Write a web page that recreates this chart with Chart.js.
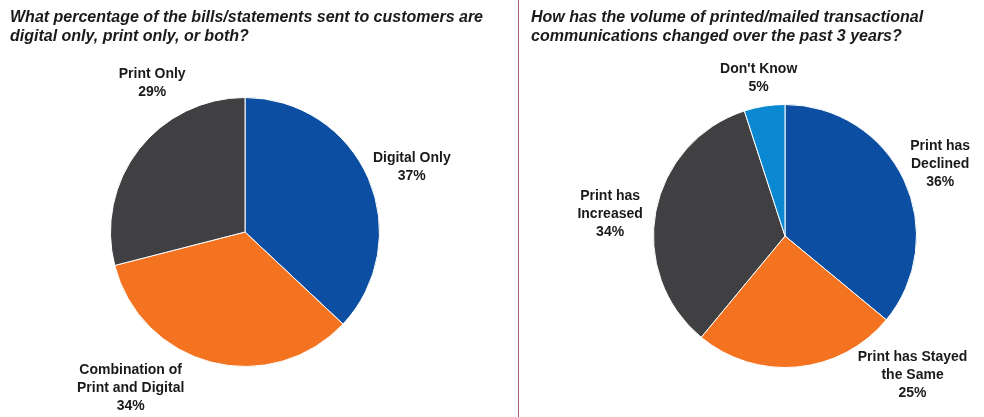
<!DOCTYPE html>
<html>
<head>
<meta charset="utf-8">
<script src="https://cdn.jsdelivr.net/npm/chart.js@4/dist/chart.umd.min.js"></script>
<style>
  html, body { margin: 0; padding: 0; background: #fff; }
  #wrap { position: relative; width: 984px; height: 417px; overflow: hidden; }
  #left { position: absolute; left: 0; top: 0; width: 518px; height: 417px; }
  #right { position: absolute; left: 520px; top: 0; width: 464px; height: 417px; }
  #divider { position: absolute; left: 518px; top: 0; width: 1px; height: 417px; background: #a05a7c; }
</style>
</head>
<body>
<div id="wrap">
  <div id="left"><canvas id="bills-chart"></canvas></div>
  <div id="divider"></div>
  <div id="right"><canvas id="volume-chart"></canvas></div>
</div>
<script>
const billsTitle = ['What percentage of the bills/statements sent to customers are', 'digital only, print only, or both?'];
const billsCategories = [['Digital Only'], ['Combination of', 'Print and Digital'], ['Print Only']];
const billsValues = [37, 34, 29];

const volumeTitle = ['How has the volume of printed/mailed transactional', 'communications changed over the past 3 years?'];
const volumeCategories = [['Print has', 'Declined'], ['Print has Stayed', 'the Same'], ['Print has', 'Increased'], ["Don't Know"]];
const volumeValues = [36, 25, 34, 5];

const blue = '#0b4ea2';
const orange = '#f37321';
const charcoal = '#404042';
const skyBlue = '#0a88d1';
const ink = '#1a1a1a';

// where each slice label sits, as multiples of the radius from the pie centre
const billsLabelPos = [[1.24, -0.48], [-0.85, 1.16], [-0.69, -1.11]];
const volumeLabelPos = [[1.18, -0.545], [0.97, 1.06], [-1.33, -0.17], [-0.2, -1.2]];

const sliceLabels = {
    id: 'sliceLabels',
    afterDatasetsDraw(chart, args, opts) {
        const ctx = chart.ctx;
        const meta = chart.getDatasetMeta(0);
        const values = chart.data.datasets[0].data;
        ctx.save();
        ctx.fillStyle = ink;
        ctx.font = 'bold 14px "Liberation Sans", Arial, sans-serif';
        ctx.textAlign = 'center';
        ctx.textBaseline = 'middle';
        meta.data.forEach((arc, i) => {
            const lines = chart.data.labels[i].concat([values[i] + '%']);
            const [fx, fy] = opts.positions[i];
            const cx = arc.x + fx * arc.outerRadius;
            const cy = arc.y + fy * arc.outerRadius;
            const lh = 18;
            const top = cy - (lines.length - 1) * lh / 2;
            lines.forEach((t, j) => ctx.fillText(t, cx, top + j * lh));
        });
        ctx.restore();
    }
};

const questionTitle = {
    id: 'questionTitle',
    afterDraw(chart, args, opts) {
        const ctx = chart.ctx;
        ctx.save();
        ctx.fillStyle = ink;
        ctx.font = 'italic bold 16px "Liberation Sans", Arial, sans-serif';
        ctx.textAlign = 'left';
        ctx.textBaseline = 'middle';
        opts.lines.forEach((t, j) => ctx.fillText(t, opts.x, 18 + j * 19));
        ctx.restore();
    }
};

function makePie(id, categories, values, colors, positions, title, titleX, padding) {
    return new Chart(document.getElementById(id).getContext('2d'), {
        type: 'pie',
        data: {
            labels: categories,
            datasets: [{
                data: values,
                backgroundColor: colors,
                borderColor: '#ffffff',
                borderWidth: 1
            }]
        },
        options: {
            responsive: true,
            maintainAspectRatio: false,
            animation: false,
            layout: { padding: padding },
            plugins: {
                legend: { display: false },
                tooltip: { enabled: false },
                sliceLabels: { positions: positions },
                questionTitle: { lines: title, x: titleX }
            }
        },
        plugins: [sliceLabels, questionTitle]
    });
}

makePie('bills-chart', billsCategories, billsValues, [blue, orange, charcoal], billsLabelPos,
    billsTitle, 10, { left: 110, right: 138, top: 97, bottom: 50 });

makePie('volume-chart', volumeCategories, volumeValues, [blue, orange, charcoal, skyBlue], volumeLabelPos,
    volumeTitle, 11, { left: 133, right: 67, top: 104, bottom: 49 });
</script>
</body>
</html>
